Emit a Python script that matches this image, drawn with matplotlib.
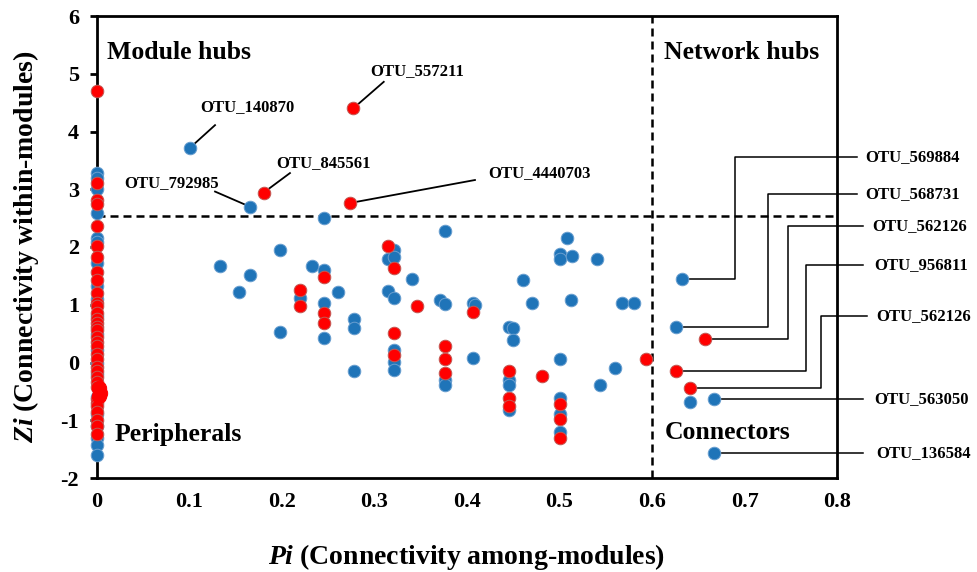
import matplotlib
matplotlib.use("Agg")
import matplotlib.pyplot as plt

plt.rcParams['font.family'] = ['Liberation Serif', 'DejaVu Serif']
plt.rcParams['font.weight'] = 'bold'
plt.rcParams['mathtext.fontset'] = 'custom'
plt.rcParams['mathtext.rm'] = 'Liberation Serif:bold'
plt.rcParams['mathtext.it'] = 'Liberation Serif:italic:bold'
plt.rcParams['mathtext.bf'] = 'Liberation Serif:bold'

# ---------------- data ----------------
blue_pi_zero_zi = [3.28, 3.19, 3.00, 2.59, 2.16, 2.08, 1.72, 1.32, 1.10, 0.80, 0.50,
                   0.22, 0.00, -0.20, -0.60, -0.90, -1.10, -1.30, -1.43, -1.60]
red_pi_zero_zi = [4.70, 3.10, 2.81, 2.74, 2.36, 2.01, 1.83, 1.57, 1.43, 1.20, 1.03,
                  0.97, 0.85, 0.76, 0.69, 0.62, 0.56, 0.44, 0.35, 0.28, 0.14, 0.06,
                  -0.07, -0.15, -0.25, -0.33, -0.42, -0.63, -0.70, -0.75, -0.85,
                  -1.00, -1.10, -1.23]
red_blob_pi = [0.002, 0.003, 0.002]
red_blob_zi = [-0.45, -0.52, -0.58]

blue_pi = [0.100, 0.165, 0.245, 0.198, 0.133, 0.165, 0.153, 0.232, 0.245, 0.261,
           0.219, 0.245, 0.245, 0.198, 0.278, 0.278, 0.278, 0.321, 0.315, 0.321,
           0.340, 0.315, 0.321, 0.321, 0.321, 0.321, 0.376, 0.371, 0.376, 0.407,
           0.409, 0.407, 0.376, 0.376, 0.445, 0.450, 0.450, 0.445, 0.445, 0.445,
           0.460, 0.470, 0.508, 0.501, 0.501, 0.514, 0.541, 0.512, 0.568, 0.580,
           0.501, 0.560, 0.544, 0.501, 0.501, 0.501, 0.632, 0.626, 0.641, 0.667,
           0.667]
blue_zi = [3.71, 2.70, 2.51, 1.95, 1.67, 1.52, 1.22, 1.67, 1.61, 1.22,
           1.11, 1.03, 0.42, 0.53, 0.75, 0.59, -0.14, 1.95, 1.79, 1.83,
           1.44, 1.24, 1.11, 0.22, 0.01, -0.13, 2.28, 1.09, 1.01, 1.03,
           0.99, 0.08, -0.30, -0.39, 0.62, 0.59, 0.39, -0.30, -0.39, -0.83,
           1.43, 1.03, 2.15, 1.88, 1.79, 1.85, 1.79, 1.09, 1.03, 1.03,
           0.06, -0.10, -0.39, -0.62, -0.90, -1.20, 1.44, 0.62, -0.68, -0.64,
           -1.57]

red_pi = [0.277, 0.180, 0.273, 0.245, 0.219, 0.219, 0.245, 0.245, 0.315, 0.321,
          0.346, 0.321, 0.321, 0.407, 0.376, 0.376, 0.376, 0.445, 0.445, 0.445,
          0.481, 0.501, 0.501, 0.501, 0.593, 0.657, 0.626, 0.641]
red_zi = [4.40, 2.94, 2.76, 1.48, 1.26, 0.97, 0.86, 0.69, 2.02, 1.63,
          0.97, 0.51, 0.13, 0.87, 0.29, 0.06, -0.18, -0.14, -0.62, -0.75,
          -0.23, -0.72, -0.97, -1.30, 0.06, 0.41, -0.14, -0.45]

zi_threshold = 2.54
pi_threshold = 0.60

x_ticks = [0, 0.1, 0.2, 0.3, 0.4, 0.5, 0.6, 0.7, 0.8]
x_tick_labels = ['0', '0.1', '0.2', '0.3', '0.4', '0.5', '0.6', '0.7', '0.8']
y_ticks = [-2, -1, 0, 1, 2, 3, 4, 5, 6]
y_tick_labels = ['-2', '-1', '0', '1', '2', '3', '4', '5', '6']

# labelled nodes on the left side: name, node Pi, node Zi
left_names = ['OTU_140870', 'OTU_557211', 'OTU_845561', 'OTU_792985', 'OTU_4440703']
left_node_pi = [0.100, 0.277, 0.180, 0.165, 0.273]
left_node_zi = [3.71, 4.40, 2.94, 2.70, 2.76]
# label layout (text centre, leader start)
left_text_xy = [(0.163, 4.42), (0.346, 5.05), (0.245, 3.45), (0.081, 3.10), (0.478, 3.28)]
left_line_start = [(0.1276, 4.11), (0.310, 4.86), (0.2086, 3.28), (0.1276, 2.96), (0.4086, 3.16)]

# labelled nodes on the right side
right_names = ['OTU_569884', 'OTU_568731', 'OTU_562126', 'OTU_956811', 'OTU_562126',
               'OTU_563050', 'OTU_136584']
right_node_pi = [0.632, 0.626, 0.657, 0.626, 0.641, 0.667, 0.667]
right_node_zi = [1.44, 0.62, 0.41, -0.14, -0.45, -0.64, -1.57]
# layout: elbow x (None = straight), label y, line end x, text left x
right_elbow_x = [0.690, 0.725, 0.7467, 0.767, 0.7827, None, None]
right_label_y = [3.56, 2.92, 2.36, 1.69, 0.81, -0.64, -1.57]
right_line_end = [0.8216, 0.8216, 0.828, 0.828, 0.832, 0.828, 0.828]
right_text_x = [0.831, 0.831, 0.8386, 0.840, 0.842, 0.840, 0.842]

# ---------------- figure ----------------
W, H = 977, 572
fig = plt.figure(figsize=(W / 100, H / 100), dpi=100)
ax = fig.add_axes([97 / W, 1 - 478 / H, 740 / W, 462 / H])
ax.set_xlim(0, 0.8)
ax.set_ylim(-2, 6)

blue_face, blue_edge = '#1f74b8', '#6a9fd0'
red_face, red_edge = '#ff0000', '#c25a55'
ms = 82

ax.scatter([0] * len(blue_pi_zero_zi), blue_pi_zero_zi, s=ms, c=blue_face,
           edgecolors=blue_edge, linewidths=0.7, zorder=4, clip_on=False)
ax.scatter(blue_pi, blue_zi, s=ms, c=blue_face, edgecolors=blue_edge,
           linewidths=0.7, zorder=4, clip_on=False)
ax.scatter([0] * len(red_pi_zero_zi), red_pi_zero_zi, s=ms, c=red_face,
           edgecolors=red_edge, linewidths=0.7, zorder=5, clip_on=False)
ax.scatter(red_blob_pi, red_blob_zi, s=ms * 1.3, c=red_face, edgecolors=red_face,
           linewidths=0.7, zorder=5, clip_on=False)
ax.scatter(red_pi, red_zi, s=ms, c=red_face, edgecolors=red_edge,
           linewidths=0.7, zorder=5, clip_on=False)

# threshold lines
ax.axhline(zi_threshold, color='black', lw=1.8, ls=(0, (3.2, 2.0)), zorder=2)
ax.axvline(pi_threshold, color='black', lw=1.8, ls=(0, (3.2, 2.0)), zorder=2)

# left annotations
for name, px, py, (tx, ty), (lx, ly) in zip(left_names, left_node_pi, left_node_zi,
                                            left_text_xy, left_line_start):
    ax.plot([lx, px], [ly, py], color='black', lw=1.3, zorder=3)
    ax.text(tx, ty, name, ha='center', va='center', fontsize=12, fontweight='bold')

# right annotations with elbow leaders
for name, px, py, ex, ly, le, tx in zip(right_names, right_node_pi, right_node_zi,
                                        right_elbow_x, right_label_y, right_line_end,
                                        right_text_x):
    if ex is None:
        xs, ys = [px, le], [py, py]
    else:
        xs, ys = [px, ex, ex, le], [py, py, ly, ly]
    ax.plot(xs, ys, color='black', lw=1.1, zorder=3, clip_on=False)
    ax.text(tx, ly, name, ha='left', va='center', fontsize=12, fontweight='bold',
            clip_on=False)

# quadrant labels
ax.text(0.0108, 5.36, 'Module hubs', ha='left', va='center', fontsize=18.5, fontweight='bold')
ax.text(0.613, 5.36, 'Network hubs', ha='left', va='center', fontsize=18.5, fontweight='bold')
ax.text(0.0195, -1.24, 'Peripherals', ha='left', va='center', fontsize=18.5, fontweight='bold')
ax.text(0.614, -1.22, 'Connectors', ha='left', va='center', fontsize=18.5, fontweight='bold')

# axes styling
for sp in ax.spines.values():
    sp.set_linewidth(2.0)
    sp.set_color('black')
ax.set_xticks(x_ticks)
ax.set_xticklabels(x_tick_labels)
ax.set_yticks(y_ticks)
ax.set_yticklabels(y_tick_labels)
ax.tick_params(axis='x', length=0, pad=10, labelsize=16)
ax.tick_params(axis='y', length=5, width=2, direction='out', pad=8, labelsize=16)
for lab in ax.get_xticklabels() + ax.get_yticklabels():
    lab.set_fontweight('bold')

ax.set_xlabel(r'$\mathit{Pi}$ (Connectivity among-modules)', fontsize=20,
              fontweight='bold', labelpad=22)
ax.set_ylabel(r'$\mathit{Zi}$ (Connectivity within-modules)', fontsize=20,
              fontweight='bold', labelpad=14)

fig.savefig('out.png', dpi=100)
